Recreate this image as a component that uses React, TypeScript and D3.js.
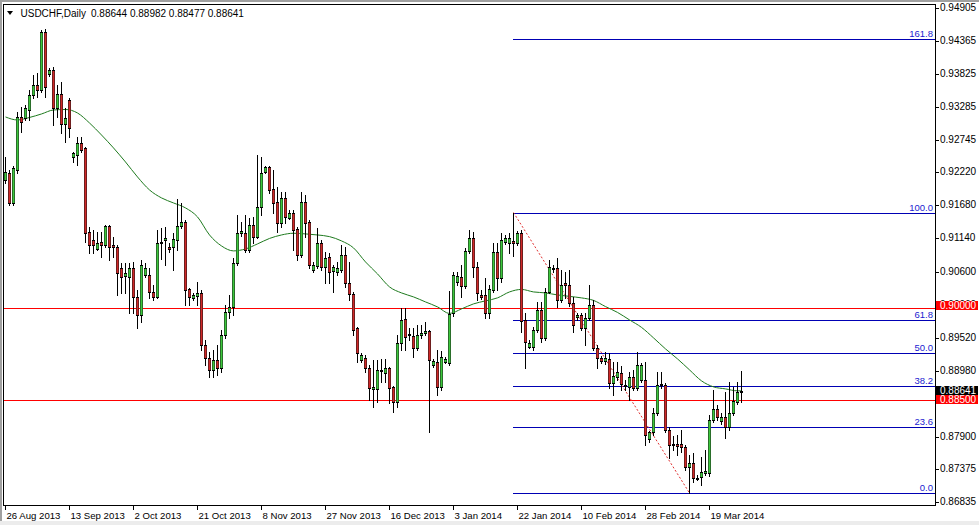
import React from 'react';
import * as d3 from 'd3';

// [open, high, low, close] per daily bar, oldest first
const ohlc: [number, number, number, number][] = [
  [0.92093, 0.92468, 0.92044, 0.92223], [0.92207, 0.92256, 0.91685, 0.91718], [0.91718, 0.92321, 0.91685, 0.92289],
  [0.92256, 0.93201, 0.92207, 0.93120], [0.93120, 0.93283, 0.92875, 0.93038], [0.93104, 0.93315, 0.93071, 0.93267],
  [0.93234, 0.93560, 0.93071, 0.93478], [0.93478, 0.93804, 0.93430, 0.93641], [0.93641, 0.93837, 0.93446, 0.93560],
  [0.93560, 0.94538, 0.93527, 0.94505], [0.94505, 0.94554, 0.93446, 0.93609], [0.93821, 0.93919, 0.93788, 0.93886],
  [0.93886, 0.93935, 0.92989, 0.93267], [0.93267, 0.93641, 0.93120, 0.93495], [0.93495, 0.93690, 0.92859, 0.93006],
  [0.93006, 0.93267, 0.92712, 0.93104], [0.93397, 0.93430, 0.92794, 0.92941], [0.92468, 0.92549, 0.92386, 0.92533],
  [0.92500, 0.92794, 0.92337, 0.92696], [0.92696, 0.92794, 0.92549, 0.92582], [0.92615, 0.92631, 0.91082, 0.91229],
  [0.91245, 0.91327, 0.90903, 0.91033], [0.91115, 0.91278, 0.90903, 0.91033], [0.90968, 0.91245, 0.90952, 0.91066],
  [0.91082, 0.91245, 0.90838, 0.91033], [0.91033, 0.91359, 0.91001, 0.91343], [0.91343, 0.91359, 0.90789, 0.91001],
  [0.91033, 0.91164, 0.90838, 0.91001], [0.91001, 0.91033, 0.90218, 0.90577], [0.90659, 0.90740, 0.90251, 0.90512],
  [0.90528, 0.90740, 0.90251, 0.90577], [0.90512, 0.90740, 0.89925, 0.90659], [0.90659, 0.90756, 0.89925, 0.90186],
  [0.90186, 0.90300, 0.89681, 0.89892], [0.89892, 0.90789, 0.89778, 0.90707], [0.90544, 0.90740, 0.90512, 0.90659],
  [0.90544, 0.90659, 0.90170, 0.90267], [0.90267, 0.90381, 0.90137, 0.90186], [0.90186, 0.91278, 0.90170, 0.91066],
  [0.91066, 0.91311, 0.90805, 0.91082], [0.91115, 0.91327, 0.90707, 0.91148], [0.91001, 0.91066, 0.90919, 0.90968],
  [0.91001, 0.91229, 0.90626, 0.91131], [0.91115, 0.91783, 0.90952, 0.91343], [0.91343, 0.91718, 0.91311, 0.91408],
  [0.91408, 0.91441, 0.90055, 0.90300], [0.90316, 0.90333, 0.90055, 0.90186], [0.90170, 0.90251, 0.90137, 0.90218],
  [0.90202, 0.90430, 0.90055, 0.90251], [0.90251, 0.90300, 0.89322, 0.89403], [0.89403, 0.89485, 0.89077, 0.89192],
  [0.89192, 0.89289, 0.88882, 0.88996], [0.88996, 0.89322, 0.88882, 0.89159], [0.89159, 0.89403, 0.88914, 0.89029],
  [0.89029, 0.89648, 0.88963, 0.89566], [0.89566, 0.90055, 0.89518, 0.89941], [0.89941, 0.90218, 0.89844, 0.90023],
  [0.90023, 0.90822, 0.89892, 0.90740], [0.90740, 0.91522, 0.90707, 0.91229], [0.91229, 0.91408, 0.91180, 0.91262],
  [0.91229, 0.91522, 0.90919, 0.90952], [0.90952, 0.91474, 0.90919, 0.91359], [0.91359, 0.91490, 0.91066, 0.91164],
  [0.91164, 0.92500, 0.91148, 0.91653], [0.91653, 0.92468, 0.91522, 0.92207], [0.92223, 0.92321, 0.92207, 0.92305],
  [0.92305, 0.92321, 0.91881, 0.91930], [0.91946, 0.92256, 0.91555, 0.91718], [0.91734, 0.91979, 0.91245, 0.91392],
  [0.91392, 0.91897, 0.91327, 0.91800], [0.91800, 0.91897, 0.91392, 0.91490], [0.91474, 0.91604, 0.91457, 0.91555],
  [0.91555, 0.91604, 0.90952, 0.91278], [0.91294, 0.91327, 0.90789, 0.90870], [0.90870, 0.91897, 0.90838, 0.91734],
  [0.91734, 0.91848, 0.91164, 0.91392], [0.91408, 0.91441, 0.90659, 0.90707], [0.90626, 0.90756, 0.90593, 0.90707],
  [0.90691, 0.91311, 0.90659, 0.91066], [0.91066, 0.91115, 0.90626, 0.90675], [0.90675, 0.90919, 0.90414, 0.90822],
  [0.90838, 0.90903, 0.90414, 0.90593], [0.90610, 0.90707, 0.90267, 0.90675], [0.90593, 0.90756, 0.90544, 0.90659],
  [0.90626, 0.91033, 0.90593, 0.90870], [0.90870, 0.91001, 0.90349, 0.90414], [0.90414, 0.90756, 0.90137, 0.90235],
  [0.90235, 0.90267, 0.89566, 0.89648], [0.89681, 0.89697, 0.89126, 0.89273], [0.89159, 0.89273, 0.89126, 0.89240],
  [0.89192, 0.89240, 0.88963, 0.89029], [0.89029, 0.89077, 0.88507, 0.88703], [0.88686, 0.89159, 0.88393, 0.88719],
  [0.88686, 0.89159, 0.88474, 0.88996], [0.88996, 0.89175, 0.88800, 0.88980], [0.88947, 0.89175, 0.88800, 0.89029],
  [0.89029, 0.89045, 0.88458, 0.88703], [0.88719, 0.88735, 0.88311, 0.88474], [0.88474, 0.89566, 0.88393, 0.89436],
  [0.89436, 0.90007, 0.89322, 0.89811], [0.89827, 0.90007, 0.89322, 0.89534], [0.89583, 0.89681, 0.89485, 0.89566],
  [0.89550, 0.89681, 0.89208, 0.89355], [0.89355, 0.89729, 0.89322, 0.89566], [0.89566, 0.89729, 0.89518, 0.89599],
  [0.89599, 0.89778, 0.89566, 0.89632], [0.89632, 0.89648, 0.87985, 0.89159], [0.89077, 0.89175, 0.89045, 0.89143],
  [0.89127, 0.89322, 0.88588, 0.88719], [0.88719, 0.89306, 0.88670, 0.89208], [0.89126, 0.89208, 0.89110, 0.89175],
  [0.89110, 0.90284, 0.89077, 0.89909], [0.89925, 0.90593, 0.89876, 0.90544], [0.90430, 0.90593, 0.90381, 0.90528],
  [0.90512, 0.90707, 0.90186, 0.90365], [0.90365, 0.90985, 0.90333, 0.90936], [0.90936, 0.91278, 0.90903, 0.91148],
  [0.91148, 0.91245, 0.90512, 0.90675], [0.90675, 0.90756, 0.90137, 0.90251], [0.90218, 0.90300, 0.90153, 0.90186],
  [0.90218, 0.90496, 0.89844, 0.89925], [0.89925, 0.90381, 0.89844, 0.90316], [0.90300, 0.91066, 0.90267, 0.90919],
  [0.90919, 0.91066, 0.90300, 0.90496], [0.90496, 0.91229, 0.90430, 0.91115], [0.91082, 0.91196, 0.91050, 0.91148],
  [0.91066, 0.91229, 0.90903, 0.91148], [0.91099, 0.91562, 0.90854, 0.91066], [0.91066, 0.91262, 0.91033, 0.91229],
  [0.91229, 0.91278, 0.89615, 0.89795], [0.89811, 0.89925, 0.89029, 0.89452], [0.89371, 0.89485, 0.89355, 0.89436],
  [0.89371, 0.89697, 0.89322, 0.89648], [0.89648, 0.90104, 0.89615, 0.89974], [0.89974, 0.90104, 0.89452, 0.89518],
  [0.89518, 0.90333, 0.89485, 0.90267], [0.90267, 0.90789, 0.90251, 0.90675], [0.90659, 0.90707, 0.90593, 0.90642],
  [0.90659, 0.90822, 0.90023, 0.90137], [0.90137, 0.90626, 0.90104, 0.90381], [0.90414, 0.90593, 0.90170, 0.90381],
  [0.90381, 0.90626, 0.90039, 0.90088], [0.90088, 0.90186, 0.89615, 0.89729], [0.89860, 0.89925, 0.89811, 0.89892],
  [0.89892, 0.89925, 0.89648, 0.89681], [0.89681, 0.89925, 0.89403, 0.89844], [0.89844, 0.90381, 0.89811, 0.90055],
  [0.90055, 0.90137, 0.89322, 0.89355], [0.89355, 0.89403, 0.89029, 0.89192], [0.89192, 0.89224, 0.89110, 0.89143],
  [0.89143, 0.89289, 0.89094, 0.89192], [0.89175, 0.89273, 0.88703, 0.88784], [0.88784, 0.89126, 0.88588, 0.88898],
  [0.88882, 0.89126, 0.88833, 0.88963], [0.88947, 0.89061, 0.88670, 0.88768], [0.88751, 0.88833, 0.88670, 0.88735],
  [0.88719, 0.88963, 0.88507, 0.88882], [0.88882, 0.88996, 0.88670, 0.88703], [0.88703, 0.89289, 0.88670, 0.89077],
  [0.88833, 0.89110, 0.88800, 0.89077], [0.88833, 0.89126, 0.87773, 0.87936], [0.87871, 0.88002, 0.87822, 0.87985],
  [0.87985, 0.88377, 0.87936, 0.88295], [0.88295, 0.88963, 0.88262, 0.88751], [0.88751, 0.88963, 0.88703, 0.88768],
  [0.88751, 0.88784, 0.87985, 0.88018], [0.88018, 0.88067, 0.87562, 0.87773], [0.87790, 0.87920, 0.87692, 0.87773],
  [0.87790, 0.87936, 0.87610, 0.87757], [0.87790, 0.88018, 0.87659, 0.87741], [0.87741, 0.87773, 0.87366, 0.87415],
  [0.87415, 0.87610, 0.86988, 0.87480], [0.87480, 0.87643, 0.87170, 0.87236], [0.87236, 0.87285, 0.87203, 0.87219],
  [0.87252, 0.87578, 0.87121, 0.87333], [0.87317, 0.87692, 0.87285, 0.87350], [0.87317, 0.88262, 0.87268, 0.88181],
  [0.88181, 0.88670, 0.88148, 0.88360], [0.88360, 0.88425, 0.88181, 0.88230], [0.88165, 0.88295, 0.88116, 0.88230],
  [0.88230, 0.88637, 0.87888, 0.88067], [0.88067, 0.88800, 0.88018, 0.88295], [0.88295, 0.88719, 0.88262, 0.88491],
  [0.88474, 0.88800, 0.88442, 0.88637], [0.88644, 0.88982, 0.88477, 0.88641],
];

// moving average read at sample bars: [bar index, value]
const maPoints: [number, number][] = [
  [0, 0.93120], [3, 0.93071], [6, 0.93112], [9, 0.93169], [12, 0.93234], [15, 0.93242], [18, 0.93185],
  [21, 0.93022], [24, 0.92826], [27, 0.92615], [30, 0.92386], [33, 0.92142], [36, 0.91930], [39, 0.91800],
  [42, 0.91718], [45, 0.91637], [48, 0.91490], [51, 0.91196], [54, 0.91017], [57, 0.90936], [60, 0.90968],
  [63, 0.91050], [66, 0.91139], [69, 0.91196], [72, 0.91224], [75, 0.91213], [78, 0.91196], [81, 0.91169],
  [84, 0.91099], [87, 0.90985], [90, 0.90756], [93, 0.90561], [96, 0.90349], [99, 0.90251], [102, 0.90186],
  [105, 0.90104], [108, 0.90023], [111, 0.89917], [114, 0.89990], [117, 0.90072], [120, 0.90121], [123, 0.90170],
  [126, 0.90267], [129, 0.90308], [132, 0.90267], [135, 0.90251], [138, 0.90218], [141, 0.90194], [144, 0.90170],
  [147, 0.90129], [150, 0.90028], [153, 0.89933], [156, 0.89811], [159, 0.89689], [162, 0.89518], [165, 0.89338],
  [168, 0.89175], [171, 0.88996], [174, 0.88817], [177, 0.88719], [180, 0.88686], [183, 0.88654], [184, 0.88654],
];

const dateLabels = ['26 Aug 2013', '13 Sep 2013', '2 Oct 2013', '21 Oct 2013', '8 Nov 2013', '27 Nov 2013',
  '16 Dec 2013', '3 Jan 2014', '22 Jan 2014', '10 Feb 2014', '28 Feb 2014', '19 Mar 2014'];
const dateLabelStep = 16;

const priceTicks = [0.94905, 0.94365, 0.93825, 0.93285, 0.92745, 0.92220, 0.91680, 0.91140, 0.90600,
  0.90060, 0.89520, 0.88980, 0.87900, 0.87375, 0.86835];

const horizontalLevels = [0.90000, 0.88500];

const fibRatios = [0, 23.6, 38.2, 50, 61.8, 100, 161.8];
const fibLabels = ['0.0', '23.6', '38.2', '50.0', '61.8', '100.0', '161.8'];
const fibHigh = 0.91562;
const fibHighBar = 127;
const fibLow = 0.86988;
const fibLowBar = 171;

const symbolTitle = 'USDCHF,Daily';

const FONT = '"Liberation Sans", Arial, sans-serif';

export default function App() {
  const W = 979, H = 525;
  const plotL = 3, plotT = 4, plotR = 935, plotB = 505;
  const x = d3.scaleLinear().domain([0, ohlc.length - 1]).range([5.5, 5.5 + 4 * (ohlc.length - 1)]);
  const y = d3.scaleLinear().domain([0.86835, 0.94905]).range([502.4, 7.5]);
  const row = (v: number) => Math.round(y(v));

  const upFill = '#3cc83c', upEdge = '#2a6e2a';
  const downFill = '#d02828', downEdge = '#6e1e1e';
  const fibColor = '#0000b4';

  const maLine = d3.line<[number, number]>()
    .x(d => x(d[0]))
    .y(d => y(d[1]))
    .curve(d3.curveMonotoneX)(maPoints) || '';

  const last = ohlc[ohlc.length - 1];
  const fibX0 = x(fibHighBar) - 0.5;

  const candles = ohlc.map((d, i) => {
    const [o, h, l, c] = d;
    const cx = x(i);
    const yt = row(Math.max(o, c));
    const yb = row(Math.min(o, c));
    const bh = Math.max(1, yb - yt + 1);
    const up = c >= o;
    const fill = up ? upFill : downFill;
    const edge = up ? upEdge : downEdge;
    return (
      <g key={i}>
        <line x1={cx} x2={cx} y1={row(h)} y2={row(l) + 1} stroke="#000" strokeWidth={1} />
        {bh > 2 ? (
          <g>
            <rect x={cx - 1.5} y={yt} width={3} height={bh} fill={edge} />
            <rect x={cx - 0.5} y={yt + 1} width={1} height={bh - 2} fill={fill} />
            <rect x={cx - 1.5} y={yt} width={3} height={1} fill="#000" />
            <rect x={cx - 1.5} y={yt + bh - 1} width={3} height={1} fill="#000" />
          </g>
        ) : (
          <rect x={cx - 1.5} y={yt} width={3} height={bh} fill="#000" />
        )}
      </g>
    );
  });

  const boxLabel = (value: number, top: number, bg: string, key: string) => (
    <g key={key}>
      <rect x={936} y={top} width={42} height={9} fill={bg} />
      <text x={940} y={top + 8} fontSize={10} fontFamily={FONT} fill="#fff">{value.toFixed(5)}</text>
    </g>
  );

  const lastRow = row(last[3]);

  return (
    <svg width={W} height={H} style={{ position: 'absolute', left: 0, top: 0, background: '#fff' }}>
      <rect x={0} y={0} width={W} height={H} fill="#fff" />
      <rect x={0} y={0} width={W} height={2} fill="#a0a0a0" />
      <rect x={0} y={0} width={2} height={H} fill="#a0a0a0" />
      <rect x={0} y={521} width={W} height={4} fill="#ececec" />

      {/* horizontal levels */}
      {horizontalLevels.map((v, i) => (
        <line key={'h' + i} x1={plotL} x2={plotR} y1={row(v) + 0.5} y2={row(v) + 0.5} stroke="#ff0000" strokeWidth={1} />
      ))}

      {/* fibonacci */}
      {fibRatios.map((r, i) => {
        const v = fibLow + (fibHigh - fibLow) * r / 100;
        const yy = row(v) + 0.5;
        return (
          <g key={'f' + i}>
            <line x1={fibX0} x2={plotR} y1={yy} y2={yy} stroke={fibColor} strokeWidth={1} />
            <text x={933} y={yy - 3} textAnchor="end" fontSize={9.5} fontFamily={FONT} fill="#1a1ad0">{fibLabels[i]}</text>
          </g>
        );
      })}
      <line x1={x(fibHighBar)} y1={y(fibHigh)} x2={x(fibLowBar)} y2={y(fibLow)} stroke="#e03030" strokeWidth={1} strokeDasharray="2,2" />

      {/* moving average */}
      <path d={maLine} fill="none" stroke="#1e7a1e" strokeWidth={1} />

      {candles}

      {/* frame */}
      <rect x={plotL + 0.5} y={plotT + 0.5} width={plotR - plotL} height={plotB - plotT} fill="none" stroke="#000" strokeWidth={1} />

      {/* price axis */}
      {priceTicks.map((v, i) => {
        const yy = row(v) + 0.5;
        return (
          <g key={'p' + i}>
            <line x1={plotR + 0.5} x2={plotR + 4} y1={yy} y2={yy} stroke="#000" />
            <text x={940} y={yy + 2.5} fontSize={10} fontFamily={FONT} fill="#000">{v.toFixed(5)}</text>
          </g>
        );
      })}
      {boxLabel(horizontalLevels[0], row(horizontalLevels[0]) - 7, '#ff0000', 'l1')}
      {boxLabel(last[3], lastRow - 6, '#000000', 'l2')}
      {boxLabel(horizontalLevels[1], lastRow + 3, '#ff0000', 'l3')}

      {/* time axis */}
      {dateLabels.map((lab, k) => {
        const xx = Math.round(x(k * dateLabelStep)) - 0.5;
        return (
          <g key={'d' + k}>
            <line x1={xx} x2={xx} y1={plotB + 1} y2={plotB + 5} stroke="#000" />
            <text x={xx + 1} y={519} fontSize={9.6} fontFamily={FONT} fill="#000">{lab}</text>
          </g>
        );
      })}

      {/* header */}
      <polygon points="7,11 13,11 10,15" fill="#000" />
      <text x={20.5} y={17} fontSize={10} fontFamily={FONT} fill="#000">{symbolTitle}</text>
      <text x={91} y={17} fontSize={10} fontFamily={FONT} fill="#000">
        {last.map(v => v.toFixed(5)).join(' ')}
      </text>
    </svg>
  );
}
